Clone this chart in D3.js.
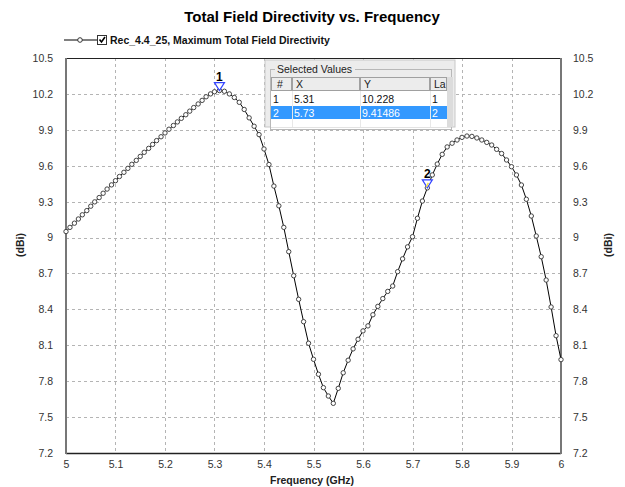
<!DOCTYPE html>
<html><head><meta charset="utf-8">
<script src="https://cdn.jsdelivr.net/npm/d3@7"></script>
<style>
body{margin:0;background:#fff;}
svg{font-family:Arial,"Liberation Sans",sans-serif;}
</style></head>
<body><svg id="c" width="625" height="487"></svg>
<script>
const chartTitle = "Total Field Directivity vs. Frequency";
const seriesName = "Rec_4.4_25, Maximum Total Field Directivity";
const xTicks = [5,5.1,5.2,5.3,5.4,5.5,5.6,5.7,5.8,5.9,6];
const yTicks = [7.2,7.5,7.8,8.1,8.4,8.7,9,9.3,9.6,9.9,10.2,10.5];
const freqGHz = [
 5.000,5.008,5.017,5.025,5.033,5.042,5.050,5.058,5.067,5.075,5.083,5.092,
 5.100,5.108,5.117,5.125,5.133,5.142,5.150,5.158,5.167,5.175,5.183,5.192,
 5.200,5.208,5.217,5.225,5.233,5.242,5.250,5.258,5.267,5.275,5.283,5.292,5.300,
 5.31,5.32,5.33,5.34,5.35,5.36,5.37,5.38,5.39,5.40,5.41,5.42,5.43,5.44,5.45,
 5.46,5.47,5.48,5.49,5.50,5.51,5.52,5.53,5.54,5.55,5.56,5.57,5.58,5.59,5.60,
 5.61,5.62,5.63,5.64,5.65,5.66,5.67,5.68,5.69,5.70,5.71,5.72,5.73,5.74,5.75,
 5.76,5.77,5.78,5.79,5.80,5.81,5.82,5.83,5.84,5.85,5.86,5.87,5.88,5.89,5.90,
 5.91,5.92,5.93,5.94,5.95,5.96,5.97,5.98,5.99,6.00];
const directivityDBi = [
 9.050,9.085,9.120,9.155,9.190,9.225,9.262,9.298,9.334,9.370,9.405,9.440,
 9.475,9.510,9.545,9.578,9.612,9.645,9.678,9.712,9.745,9.778,9.810,9.842,
 9.874,9.905,9.936,9.966,9.996,10.026,10.056,10.086,10.116,10.146,10.176,10.200,10.218,
 10.228,10.222,10.200,10.170,10.130,10.070,10.000,9.930,9.860,9.740,9.610,9.430,9.265,9.085,8.882,
 8.681,8.484,8.297,8.117,7.983,7.858,7.746,7.676,7.615,7.740,7.870,7.975,8.070,8.150,8.220,
 8.262,8.355,8.425,8.490,8.550,8.595,8.715,8.822,8.922,9.007,9.161,9.305,9.415,9.523,9.614,
 9.695,9.757,9.788,9.815,9.837,9.848,9.845,9.832,9.815,9.795,9.773,9.737,9.702,9.648,9.592,
 9.523,9.439,9.320,9.180,9.013,8.840,8.645,8.420,8.180,7.980];
const markerIds = ["1","2"];
const markerX = [5.31, 5.73];
const markerY = [10.228, 9.41486];

const svg = d3.select("#c");
const L=66,R=561,T=58,B=453;
const x = d3.scaleLinear().domain([5,6]).range([L,R]);
const y = d3.scaleLinear().domain([7.2,10.5]).range([B,T]);

// title
svg.append("text").attr("x",312).attr("y",22).attr("text-anchor","middle")
  .attr("font-size","15px").attr("font-weight","bold").attr("fill","#000").text(chartTitle);

// legend
const lg = svg.append("g");
lg.append("line").attr("x1",64).attr("x2",97).attr("y1",40).attr("y2",40).attr("stroke","#000").attr("stroke-width",1);
lg.append("circle").attr("cx",80).attr("cy",40).attr("r",2.3).attr("fill","#fff").attr("stroke","#333");
lg.append("rect").attr("x",97.5).attr("y",35.5).attr("width",9).attr("height",9).attr("fill","#fff").attr("stroke","#333");
lg.append("path").attr("d","M99.5,39.5 L101.5,42 L105,37").attr("fill","none").attr("stroke","#000").attr("stroke-width",1.6);
lg.append("text").attr("x",110).attr("y",44).attr("font-size","10.5px").attr("font-weight","bold").attr("fill","#111").text(seriesName);

// grid
const grid = svg.append("g").attr("stroke","#b4b4b4").attr("stroke-dasharray","3,3").attr("stroke-width",1);
grid.selectAll(".vg").data(xTicks.slice(1,-1)).join("line")
  .attr("x1",d=>Math.round(x(d))+0.5).attr("x2",d=>Math.round(x(d))+0.5).attr("y1",T).attr("y2",B);
grid.selectAll(".hg").data(yTicks.slice(1,-1)).join("line")
  .attr("y1",d=>Math.round(y(d))+0.5).attr("y2",d=>Math.round(y(d))+0.5).attr("x1",L).attr("x2",R);

// frame
svg.append("line").attr("x1",L).attr("x2",R).attr("y1",T+0.5).attr("y2",T+0.5).attr("stroke","#222");
svg.append("line").attr("x1",L).attr("x2",R).attr("y1",B+0.5).attr("y2",B+0.5).attr("stroke","#222").attr("stroke-width",1.5);
svg.append("line").attr("x1",L).attr("x2",L).attr("y1",T).attr("y2",B+1).attr("stroke","#777").attr("stroke-width",2);
svg.append("line").attr("x1",R).attr("x2",R).attr("y1",T).attr("y2",B+1).attr("stroke","#777").attr("stroke-width",2);

// axes
const fmt = d=>String(+d.toFixed(2));
const axL = svg.append("g").attr("transform",`translate(${L-10},0)`)
  .call(d3.axisLeft(y).tickValues(yTicks).tickFormat(fmt).tickSize(0));
const axR = svg.append("g").attr("transform",`translate(${R+9},0)`)
  .call(d3.axisRight(y).tickValues(yTicks).tickFormat(fmt).tickSize(0));
const axB = svg.append("g").attr("transform",`translate(0,${B+5})`)
  .call(d3.axisBottom(x).tickValues(xTicks).tickFormat(fmt).tickSize(0));
[axL,axR,axB].forEach(a=>{
  a.select(".domain").remove();
  a.selectAll("text").attr("font-size","10.5px").attr("fill","#333").attr("font-family","Arial,'Liberation Sans',sans-serif");
});
axL.selectAll("text").attr("dx","0");
axR.selectAll("text").attr("dx","0");

svg.append("text").attr("x",312).attr("y",484).attr("text-anchor","middle")
  .attr("font-size","10.5px").attr("font-weight","bold").attr("fill","#222").text("Frequency (GHz)");
svg.append("text").attr("transform","translate(24,245) rotate(-90)").attr("text-anchor","middle")
  .attr("font-size","10.5px").attr("font-weight","bold").attr("fill","#222").text("(dBi)");
svg.append("text").attr("transform","translate(612,245) rotate(-90)").attr("text-anchor","middle")
  .attr("font-size","10.5px").attr("font-weight","bold").attr("fill","#222").text("(dBi)");

// series
const data = freqGHz.map((f,i)=>({f, v:directivityDBi[i]}));
svg.append("path").datum(data)
  .attr("d", d3.line().x(d=>x(d.f)).y(d=>y(d.v)))
  .attr("fill","none").attr("stroke","#000").attr("stroke-width",1);
svg.append("g").selectAll("circle").data(data).join("circle")
  .attr("cx",d=>x(d.f)).attr("cy",d=>y(d.v)).attr("r",2.2)
  .attr("fill","#fff").attr("stroke","#444").attr("stroke-width",1);

// markers
markerIds.forEach((id,i)=>{
  const px = x(markerX[i]), py = y(markerY[i]);
  const g = svg.append("g");
  g.append("path").attr("d",`M${px-5},${py-8} L${px+5},${py-8} L${px},${py} Z`)
    .attr("fill","#fff").attr("stroke","#3344ff").attr("stroke-width",1.2);
  if(i===1) g.append("line").attr("x1",px+1).attr("y1",py-5).attr("x2",px-1).attr("y2",py-1).attr("stroke","#f0e040").attr("stroke-width",1.5);
  g.append("text").attr("x",px).attr("y",py-10).attr("text-anchor","middle")
    .attr("font-size","12px").attr("font-weight","bold").attr("fill","#000").text(id);
});

// selected values panel
const P = svg.append("g");
P.append("rect").attr("x",265).attr("y",60).attr("width",190).attr("height",67).attr("fill","#ececec").attr("stroke","#c8c8c8");
P.append("rect").attr("x",270.5).attr("y",69.5).attr("width",181).attr("height",60).attr("fill","none").attr("stroke","#b8b8b8");
P.append("rect").attr("x",275).attr("y",63).attr("width",80).attr("height",12).attr("fill","#ececec");
P.append("text").attr("x",277).attr("y",73).attr("font-size","10.5px").attr("fill","#222").text("Selected Values");
P.append("rect").attr("x",271).attr("y",77).attr("width",176).attr("height",50).attr("fill","#fff");
const cols = [271,292,360,430,447];
const hdr = ["#","X","Y","La"];
hdr.forEach((h,i)=>{
  P.append("rect").attr("x",cols[i]+0.5).attr("y",77.5).attr("width",cols[i+1]-cols[i]-1).attr("height",13)
    .attr("fill","#ececec").attr("stroke","#a0a0a0");
  P.append("text").attr("x",cols[i]+(i===0?6:4)).attr("y",88).attr("font-size","10.5px").attr("fill","#222").text(h);
});
P.append("rect").attr("x",447).attr("y",77).attr("width",6).attr("height",50).attr("fill","#dcdcdc");
P.append("rect").attr("x",271).attr("y",106).attr("width",176).attr("height",13).attr("fill","#3399ff");
const rows = [["1","5.31","10.228","1"],["2","5.73","9.41486","2"]];
rows.forEach((r,j)=>{
  r.forEach((c,i)=>{
    P.append("text").attr("x",cols[i]+2).attr("y",103+j*14).attr("font-size","10.5px")
      .attr("fill", j===1 ? "#fff" : "#111").text(c);
  });
});
[292,360,430].forEach(cx=>{
  P.append("line").attr("x1",cx+0.5).attr("x2",cx+0.5).attr("y1",91).attr("y2",127).attr("stroke","#e8e8e8");
});
</script></body></html>
